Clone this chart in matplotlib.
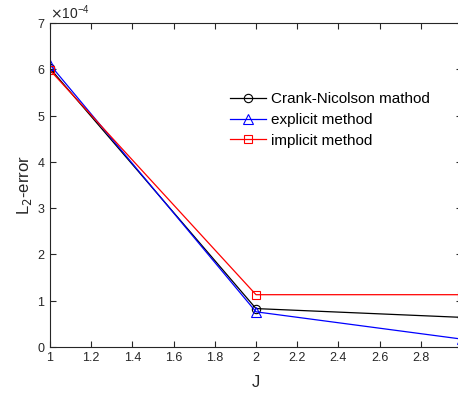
import matplotlib
matplotlib.use("Agg")
import matplotlib.pyplot as plt
from matplotlib.ticker import ScalarFormatter

plt.rcParams['font.family'] = ['Liberation Sans', 'DejaVu Sans']
plt.rcParams['axes.formatter.use_mathtext'] = True

# data
J = [1, 2, 3]
crank_nicolson = [6.02e-4, 0.83e-4, 0.64e-4]
explicit = [6.10e-4, 0.76e-4, 0.17e-4]
implicit = [5.98e-4, 1.13e-4, 1.13e-4]

fig = plt.figure(figsize=(4.58, 3.94), dpi=100)
# axes runs past the right edge, like the cropped original
ax = fig.add_axes([50 / 458, 47 / 394, 412 / 458, 324 / 394])

ax.plot(J, crank_nicolson, color='k', lw=0.9, marker='o', mfc='none', ms=6, mew=0.8, label='Crank-Nicolson mathod')
ax.plot(J, explicit, color='b', lw=0.9, marker='^', mfc='none', ms=7, mew=0.8, label='explicit method')
ax.plot(J, implicit, color='r', lw=0.9, marker='s', mfc='none', ms=6, mew=0.8, label='implicit method')

ax.set_xlim(1, 3)
ax.set_ylim(0, 7e-4)
ax.set_xticks([1, 1.2, 1.4, 1.6, 1.8, 2, 2.2, 2.4, 2.6, 2.8])
ax.set_xticklabels(['1', '1.2', '1.4', '1.6', '1.8', '2', '2.2', '2.4', '2.6', '2.8'])
ax.set_yticks([i * 1e-4 for i in range(8)])

fmt = ScalarFormatter(useMathText=True)
fmt.set_powerlimits((0, 0))
ax.yaxis.set_major_formatter(fmt)
ax.yaxis.get_offset_text().set_fontsize(10)

ax.tick_params(direction='in', top=True, right=True, labelsize=9, colors='#262626', length=4)
for s in ax.spines.values():
    s.set_color('#262626')
    s.set_linewidth(0.8)

ax.set_xlabel('J', fontsize=12, color='#262626', labelpad=8)
ax.set_ylabel('L$_2$-error', fontsize=12, color='#262626', labelpad=2)

ax.legend(loc='upper left', bbox_to_anchor=(0.41, 0.82), frameon=False, fontsize=11,
          handlelength=2.4, handletextpad=0.3, labelspacing=0.45, borderpad=0.2)

fig.savefig('out.png', dpi=100)
